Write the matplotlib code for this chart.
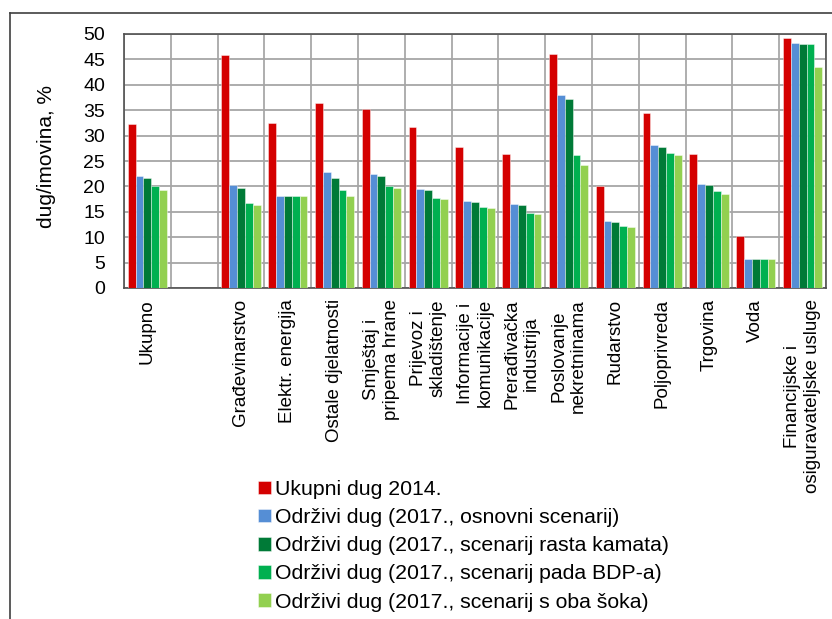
import matplotlib.pyplot as plt
import numpy as np
from matplotlib.lines import Line2D

plt.rcParams['font.family'] = ['Liberation Sans', 'DejaVu Sans']

categories = ['Ukupno', '', 'Građevinarstvo', 'Elektr. energija', 'Ostale djelatnosti',
              'Smještaj i\npripema hrane', 'Prijevoz i\nskladištenje', 'Informacije i\nkomunikacije',
              'Prerađivačka\nindustrija', 'Poslovanje\nnekretninama', 'Rudarstvo', 'Poljoprivreda',
              'Trgovina', 'Voda', 'Financijske i\nosiguravateljske usluge']

series_names = ['Ukupni dug 2014.',
                'Održivi dug (2017., osnovni scenarij)',
                'Održivi dug (2017., scenarij rasta kamata)',
                'Održivi dug (2017., scenarij pada BDP-a)',
                'Održivi dug (2017., scenarij s oba šoka)']

ukupni_2014 = [32.2, np.nan, 45.9, 32.4, 36.5, 35.2, 31.6, 27.8, 26.4, 46.1, 20.0, 34.4, 26.4, 10.2, 49.3]
osnovni = [22.0, np.nan, 20.3, 18.2, 22.8, 22.4, 19.5, 17.1, 16.5, 38.0, 13.1, 28.1, 20.5, 5.7, 48.2]
rast_kamata = [21.7, np.nan, 19.6, 18.2, 21.7, 22.0, 19.2, 16.9, 16.3, 37.2, 12.9, 27.8, 20.3, 5.7, 48.1]
pad_bdp = [20.0, np.nan, 16.7, 18.2, 19.2, 20.1, 17.7, 15.9, 14.8, 26.2, 12.2, 26.6, 19.0, 5.7, 48.0]
oba_soka = [19.3, np.nan, 16.3, 18.2, 18.1, 19.7, 17.5, 15.8, 14.6, 24.2, 12.1, 26.2, 18.6, 5.7, 43.6]

colors = ['#D40000', '#558ED5', '#007A37', '#00B050', '#92D050']

fig = plt.figure(figsize=(8.32, 6.19), dpi=100)
ax = fig.add_axes([124 / 832, 1 - 288 / 619, 702 / 832, 254 / 619])

x = np.arange(len(categories))
w = 0.167
all_series = [ukupni_2014, osnovni, rast_kamata, pad_bdp, oba_soka]
for k, (vals, name, c) in enumerate(zip(all_series, series_names, colors)):
    ax.bar(x + (k - 2) * w, vals, width=w, color=c, edgecolor=(1, 1, 1, 0.5),
           linewidth=0.6, label=name, zorder=3)

ax.set_xlim(-0.5, len(categories) - 0.5)
ax.set_ylim(0, 50)
ax.set_yticks(np.arange(0, 51, 5))
ax.set_xticks(x)
ax.set_xticklabels(categories, rotation=90, ha='center', va='top',
                   multialignment='center', fontsize=13.5)
ax.set_xticks(np.arange(-0.5, len(categories), 1), minor=True)
ax.tick_params(axis='x', which='both', length=0, pad=8)
ax.tick_params(axis='y', length=0, pad=13.5, labelsize=14)

ax.grid(axis='y', color='#A6A6A6', linewidth=1.3, zorder=0)
ax.grid(axis='x', which='minor', color='#999999', linewidth=1.1, zorder=0)
ax.grid(axis='x', which='major', visible=False)
for s in ax.spines.values():
    s.set_color('#505050')
    s.set_linewidth(1.2)

ax.set_ylabel('dug/imovina, %', fontsize=15)
ax.yaxis.set_label_coords(-0.097, 0.518)

ax.legend(loc='upper left', bbox_to_anchor=(258 / 832, 1 - 480 / 619),
          bbox_transform=fig.transFigure, frameon=False, fontsize=15.3,
          handlelength=0.6, handleheight=0.6, handletextpad=0.2,
          labelspacing=0.43, borderpad=0, borderaxespad=0)

# outer chart frame
fig.add_artist(Line2D([10 / 832, 1.0], [1 - 13 / 619, 1 - 13 / 619],
                      transform=fig.transFigure, color='#404040', linewidth=1.2))
fig.add_artist(Line2D([10 / 832, 10 / 832], [1 - 13 / 619, 0],
                      transform=fig.transFigure, color='#404040', linewidth=1.2))

fig.savefig('out.png', dpi=100)
